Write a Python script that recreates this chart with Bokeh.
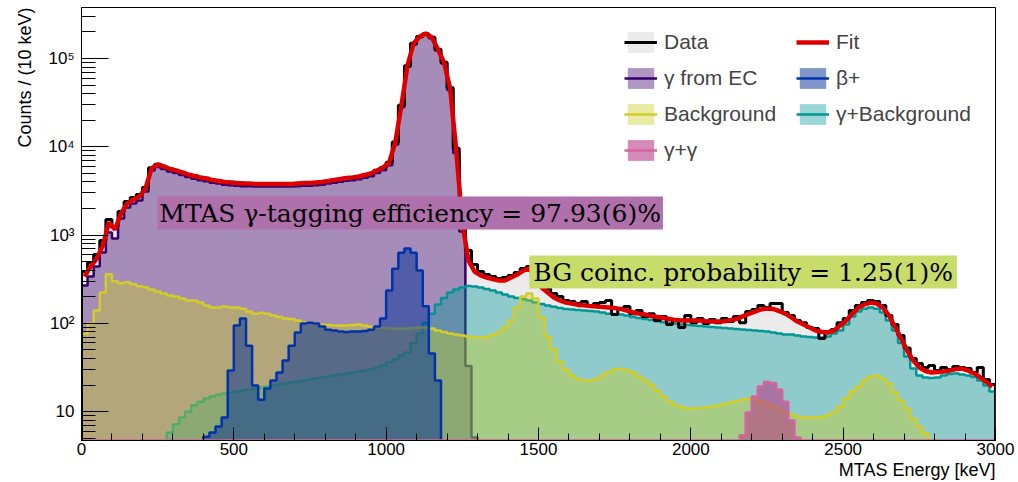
import numpy as np
from bokeh.plotting import figure
from bokeh.models import Range1d, FixedTicker, Label, Legend, LegendItem, Title
from bokeh.embed import file_html
from bokeh.resources import INLINE

# ---------------- data (counts per bin, 20 keV bins) ----------------
BIN = 20

data_start = 0
data_counts = [387, 490, 603, 869, 1500, 1250, 1850, 2400, 2670, 2890,
               3460, 5800, 6350, 5950, 5650, 5350, 5150, 4820, 4700, 4460,
               4390, 4180, 4120, 3970, 3960, 3870, 3860, 3820, 3810, 3770,
               3800, 3780, 3800, 3770, 3810, 3830, 3900, 3880, 3950, 3980,
               4110, 4190, 4320, 4420, 4500, 4600, 4800, 4970, 5420, 5820,
               6700, 11300, 29500, 83000, 148500, 178000, 191000, 173500, 127000, 90500,
               46500, 9600, 1670, 669, 465, 387, 358, 340, 322, 331,
               349, 377, 419, 441, 390, 290, 248, 218, 202, 182,
               177, 168, 177, 160, 168, 172, 182, 126, 147, 155,
               129, 140, 120, 129, 108, 120, 97.2, 111, 89.9, 123,
               102, 114, 99.7, 111, 102, 114, 105, 120, 102, 136,
               144, 160, 151, 168, 168, 133, 123, 108, 102, 89.9,
               87.5, 67.5, 80.9, 85.3, 102, 114, 140, 160, 172, 182,
               177, 160, 123, 97.2, 72.9, 52.6, 40.0, 35.2, 31.7, 33.4,
               29.3, 31.7, 30.1, 32.5, 31.7, 30.8, 27.8, 31.7, 23.2, 20.3]

fit_start = 0
fit_counts = [340, 441, 543, 763, 1390, 1160, 1760, 2280, 2530, 2740,
              3370, 5690, 6310, 5990, 5610, 5400, 5120, 4860, 4670, 4490,
              4370, 4200, 4100, 3990, 3940, 3890, 3840, 3840, 3790, 3790,
              3790, 3790, 3790, 3790, 3790, 3840, 3890, 3890, 3940, 3990,
              4100, 4200, 4310, 4430, 4490, 4610, 4790, 4980, 5400, 5830,
              6640, 11190, 29360, 83300, 147900, 177500, 191900, 172900, 126500, 90100,
              45700, 9080, 1390, 516, 387, 349, 331, 318, 306, 306,
              331, 358, 397, 419, 330, 255, 224, 197, 182, 172,
              168, 162, 160, 157, 155, 153, 151, 149, 146, 140,
              133, 129, 126, 121, 118, 115, 112, 109, 108, 108,
              108, 108, 106, 105, 105, 106, 109, 112, 120, 128,
              136, 144, 147, 146, 138, 129, 117, 105, 97.2, 89.9,
              83.1, 79.9, 78.9, 83.1, 94.7, 108, 129, 151, 164, 172,
              168, 151, 123, 92.2, 67.5, 49.3, 38.0, 31.7, 28.9, 27.8,
              28.2, 28.5, 29.3, 30.4, 30.8, 29.3, 27.1, 24.4, 21.7, 19.3]

ec_start = 0
ec_counts = [269, 340, 441, 635, 1070, 915, 1540, 2050, 2280, 2470,
             3120, 5400, 5900, 5600, 5250, 5050, 4780, 4540, 4360, 4190,
             4080, 3920, 3830, 3720, 3680, 3630, 3580, 3580, 3540, 3540,
             3540, 3540, 3540, 3540, 3540, 3580, 3630, 3630, 3680, 3720,
             3830, 3920, 4020, 4130, 4190, 4300, 4470, 4650, 5040, 5440,
             6200, 10600, 28000, 80500, 144000, 174000, 188500, 169500, 123500, 87500,
             44000, 8500, 1100, 33, 5.1]

beta_start = 400
beta_counts = [5.2, 5.8, 6.8, 8.6, 29.3, 94.7, 114, 56, 19.8, 13.7,
               18.3, 22.6, 27.8, 38, 56, 78.9, 100, 102, 100, 92.2,
               85, 83, 81, 80, 81, 81, 82, 85, 92, 114,
               236, 417, 633, 705, 633, 397, 156, 45.7, 22.6]

bg_start = 0
bg_counts = [76.9, 99.9, 140, 224, 360, 300, 285, 292, 277, 264,
             257, 242, 230, 218, 207, 202, 191, 182, 182, 172,
             160, 151, 151, 155, 151, 151, 147, 136, 129, 132,
             129, 123, 118, 114, 112, 108, 103, 101, 99.9, 97.2,
             96, 94.7, 94.7, 94.7, 96, 97.2, 94.7, 92.2, 89.9, 88.7,
             87.5, 87.5, 87.5, 87.5, 88.7, 89.9, 89.9, 87.5, 83.1, 79.9,
             76.8, 74.9, 72.9, 71.1, 69.3, 69.3, 70.2, 73.9, 78.9, 89.9,
             108, 151, 202, 218, 191, 117, 71.1, 50.6, 37.0, 30.1,
             25.7, 23.5, 22.6, 22.6, 23.5, 25.7, 28.2, 30.1, 30.4, 29.6,
             27.8, 25.0, 22.6, 20.3, 17.4, 14.9, 13.0, 11.9, 11.2, 10.9,
             10.9, 11.0, 11.2, 11.4, 11.8, 12.2, 12.7, 13.2, 13.7, 14.1,
             13.7, 13.2, 12.4, 11.4, 10.6, 9.9, 9.3, 8.8, 8.6, 8.6,
             8.6, 8.7, 9.1, 10.0, 11.4, 14.1, 16.9, 19.3, 22.6, 25.0,
             25.7, 23.8, 20.9, 16.5, 13.4, 10.9, 8.3, 6.8, 5.7, 4.7,
             3.9]

gbg_start = 280
gbg_counts = [5.8, 7.2, 8.6, 10.0, 11.8, 13.0, 14.1, 14.9, 15.6, 16.1,
              16.5, 16.9, 17.4, 17.8, 18.3, 18.8, 19.3, 19.8, 20.3, 20.9,
              21.4, 22.0, 22.6, 23.2, 23.8, 24.4, 25.0, 25.7, 26.4, 27.1,
              27.8, 28.5, 29.3, 30.0, 31.7, 33.4, 36.2, 39.0, 43.3, 46.8,
              59.9, 76.8, 102, 129, 164, 194, 224, 242, 255, 265,
              262, 255, 246, 236, 224, 212, 202, 194, 188, 182,
              172, 166, 160, 154, 149, 146, 144, 142, 140, 138,
              136, 133, 129, 128, 126, 123, 118, 115, 112, 109,
              106, 103, 102, 99.6, 97.2, 95.9, 94.7, 93.5, 92.2, 91.0,
              89.9, 88.7, 87.5, 86.4, 85.3, 84.2, 83.1, 82.0, 80.9, 78.9,
              76.8, 74.9, 74.9, 72.9, 71.1, 70.2, 69.3, 69.3, 71.1, 76.8,
              83.1, 97.2, 120, 136, 147, 151, 147, 133, 108, 83.1,
              59.9, 42.2, 30.8, 25.7, 24.4, 24.1, 24.4, 25.7, 26.8, 27.1,
              26.4, 25.7, 24.7, 22.6, 19.8, 16.9]

gg_start = 2160
gg_counts = [5.4, 9.8, 14.9, 19.3, 21.7, 21.1, 17.8, 13.0, 7.95, 5.1]

x_ticks = [0, 500, 1000, 1500, 2000, 2500, 3000]
y_ticks = [10, 100, 1000, 10000, 100000]
y_tick_labels = ["10", "10\u00b2", "10\u00b3", "10\u2074", "10\u2075"]

# ---------------- figure ----------------
X_MIN, X_MAX = 0, 3000
Y_MIN, Y_MAX = 4.72, 3.78e5

p = figure(width=1018, height=482, x_range=Range1d(X_MIN, X_MAX),
           y_range=Range1d(Y_MIN, Y_MAX), y_axis_type="log",
           output_backend="svg", toolbar_location=None,
           min_border_left=81, min_border_right=23,
           min_border_top=7, min_border_bottom=42)
p.xgrid.visible = False
p.ygrid.visible = False
p.outline_line_color = "black"
p.outline_line_width = 1
p.background_fill_color = "white"
p.border_fill_color = "white"


def step_xy(start, vals):
    vals = np.asarray(vals, float)
    edges = start + BIN * np.arange(len(vals) + 1)
    x = np.repeat(edges, 2)
    y = np.concatenate([[Y_MIN], np.repeat(vals, 2), [Y_MIN]])
    return x, y


def hist(start, vals, fill, alpha, line, lw):
    x, y = step_xy(start, vals)
    f = p.varea(x=x, y1=Y_MIN * 0.5, y2=y, fill_color=fill, fill_alpha=alpha)
    l = p.line(x, y, line_color=line, line_width=lw)
    return f, l


# data fill
dx, dy = step_xy(data_start, data_counts)
data_fill = p.varea(x=dx, y1=Y_MIN * 0.5, y2=dy, fill_color="#ebebeb", fill_alpha=1.0)

ec_fill, ec_line = hist(ec_start, ec_counts, (95, 45, 135), 0.5, "#35006e", 2.5)
gbg_fill, gbg_line = hist(gbg_start, gbg_counts, (0, 153, 153), 0.39, "#009696", 2.5)
bg_fill, bg_line = hist(bg_start, bg_counts, (200, 205, 30), 0.4, "#d2cd28", 2.5)
beta_fill, beta_line = hist(beta_start, beta_counts, (0, 45, 150), 0.5, "#0033aa", 2.5)

gx, gy = step_xy(gg_start, gg_counts)
gg_fill = p.varea(x=gx, y1=Y_MIN * 0.5, y2=gy, fill_color=(185, 60, 135), fill_alpha=0.6)
gx_full = np.concatenate([[X_MIN], gx, [X_MAX]])
gy_full = np.concatenate([[Y_MIN], gy, [Y_MIN]])
gg_line = p.line(gx_full, gy_full, line_color="#d2649f", line_width=2.5)

data_line = p.line(dx, dy, line_color="black", line_width=3)

fit_x = fit_start + BIN * np.arange(len(fit_counts)) + BIN / 2
fit_line = p.line(fit_x, fit_counts, line_color="#dd0000", line_width=4.5)

# ---------------- axes ----------------
p.xaxis.ticker = FixedTicker(ticks=x_ticks, minor_ticks=list(range(0, 3001, 100)))
p.yaxis.ticker = FixedTicker(ticks=y_ticks,
                             minor_ticks=[k * 10 ** n for n in range(0, 6) for k in range(2, 10)])
p.yaxis.major_label_overrides = {t: s for t, s in zip(y_ticks, y_tick_labels)}
for ax in (p.xaxis[0], p.yaxis[0]):
    ax.axis_line_color = "black"
    ax.major_tick_line_color = "black"
    ax.minor_tick_line_color = "black"
    ax.major_tick_out = 0
    ax.minor_tick_out = 0
    ax.major_label_text_font = "Liberation Sans"
    ax.major_label_text_font_size = "17px"
    ax.major_label_text_color = "black"
p.xaxis.major_tick_in = 13
p.xaxis.minor_tick_in = 7
p.xaxis.major_label_standoff = 2
p.yaxis.major_tick_in = 27
p.yaxis.minor_tick_in = 14
p.yaxis.major_label_standoff = 7

# axis titles, right / top aligned as in ROOT
p.add_layout(Title(text="MTAS Energy [keV]", align="right", text_font="Liberation Sans",
                   text_font_size="18px", text_font_style="normal", text_color="black",
                   standoff=0), "below")
p.add_layout(Title(text="Counts / (10 keV)", align="right", text_font="Liberation Sans",
                   text_font_size="18px", text_font_style="normal", text_color="black",
                   standoff=22), "left")

# ---------------- annotation boxes ----------------
p.add_layout(Label(x=249, y=1157, text="MTAS \u03b3-tagging efficiency = 97.93(6)%",
                   text_font="DejaVu Serif", text_font_size="25px", text_color="black",
                   text_baseline="bottom", text_align="left",
                   background_fill_color="#b070ac", background_fill_alpha=1.0,
                   padding=2))
p.add_layout(Label(x=1470, y=248, text="BG coinc. probability = 1.25(1)%",
                   text_font="DejaVu Serif", text_font_size="25px", text_color="black",
                   text_baseline="bottom", text_align="left",
                   background_fill_color="#c8dc6a", background_fill_alpha=1.0,
                   padding=(4, 2)))

# ---------------- legend (column-major fill: left column first) ----------------
items = [
    LegendItem(label="Data", renderers=[data_fill, data_line]),
    LegendItem(label="\u03b3 from EC", renderers=[ec_fill, ec_line]),
    LegendItem(label="Background", renderers=[bg_fill, bg_line]),
    LegendItem(label="\u03b3+\u03b3", renderers=[gg_fill, gg_line]),
    LegendItem(label="Fit", renderers=[fit_line]),
    LegendItem(label="\u03b2+", renderers=[beta_fill, beta_line]),
    LegendItem(label="\u03b3+Background", renderers=[gbg_fill, gbg_line]),
]
legend = Legend(items=items, ncols=2, location=(543, 277),
                glyph_width=33, glyph_height=26, label_height=26, label_width=122,
                label_text_font="Liberation Sans", label_text_font_size="21px",
                label_standoff=7, spacing=10, padding=0, margin=0,
                background_fill_alpha=0, border_line_alpha=0)
p.add_layout(legend)

open("out.html", "w").write(file_html(p, INLINE))
